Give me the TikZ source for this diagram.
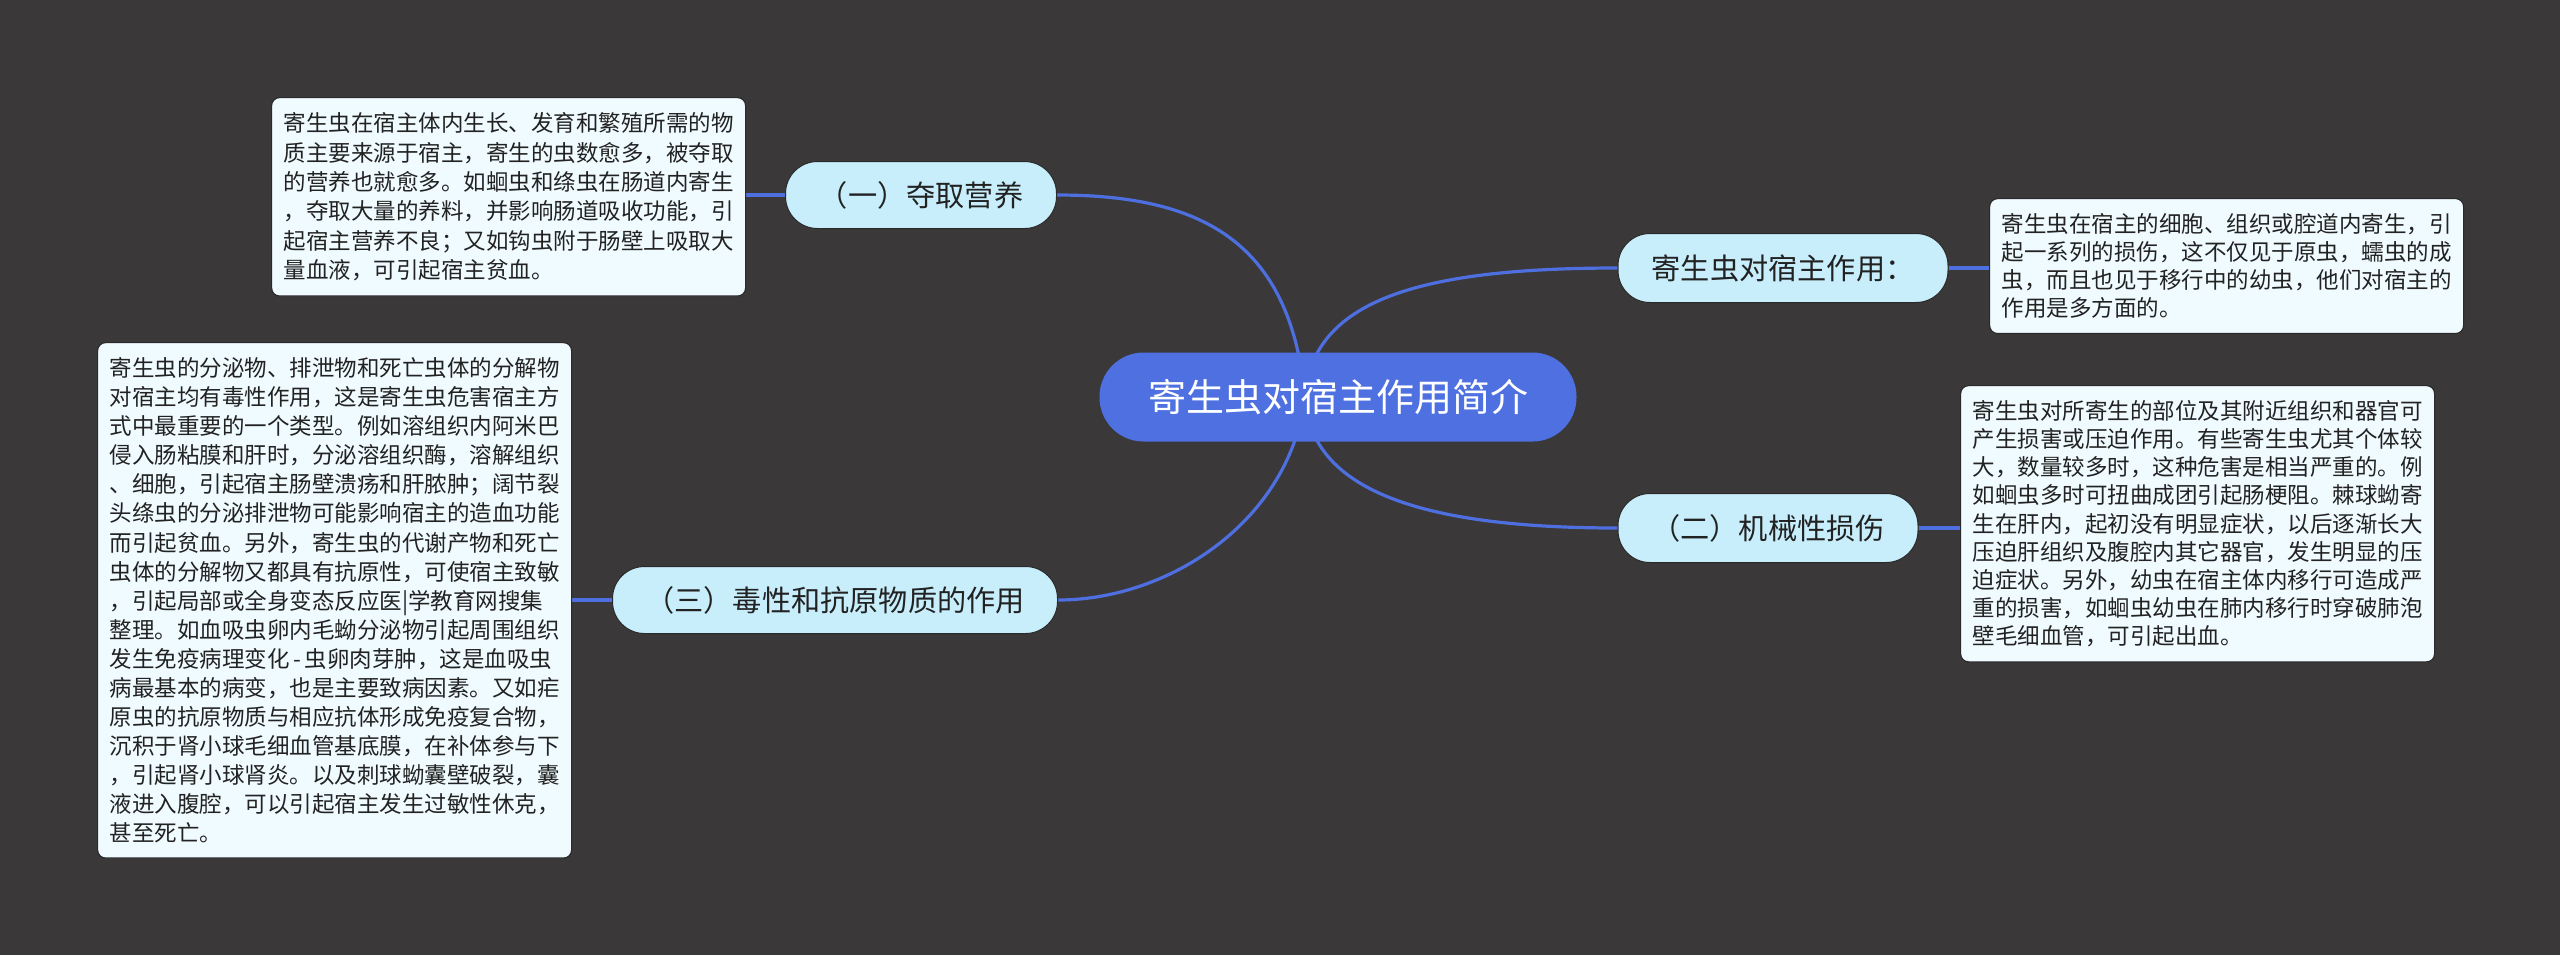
\documentclass[tikz,border=0pt]{standalone}
\usepackage{fontspec}
\setmainfont{Noto Sans CJK SC}
\definecolor{bgc}{HTML}{3A3839}
\definecolor{centerfill}{HTML}{4E70E0}
\definecolor{linec}{HTML}{4E6FDF}
\definecolor{branchfill}{HTML}{C8EEFC}
\definecolor{boxfill}{HTML}{F0FBFF}
\definecolor{edgec}{HTML}{2A2A2A}
\definecolor{textdark}{HTML}{222222}
\pgfdeclarelayer{bgl}
\pgfdeclarelayer{lines}
\pgfsetlayers{bgl,lines,main}
\tikzset{
  centernode/.style={fill=centerfill, rounded corners=22pt, text=white,
    font=\fontsize{19pt}{22pt}\selectfont, minimum width=238.5pt, minimum height=44.5pt, inner sep=0pt},
  branch/.style={fill=branchfill, draw=edgec, line width=0.5pt, rounded corners=16pt, text=textdark,
    font=\fontsize{14.6pt}{17pt}\selectfont, minimum height=33.5pt, inner sep=0pt},
  infobox/.style={fill=boxfill, draw=edgec, line width=0.6pt, rounded corners=4pt, text=textdark,
    text width=225pt, inner xsep=6pt, inner ysep=7.5pt, align=left, anchor=north west},
  conn/.style={draw=linec, line width=1.6pt},
}
\begin{document}
\begin{tikzpicture}[x=0.5pt,y=-0.5pt]
\begin{pgfonlayer}{bgl}
\fill[bgc] (0,0) rectangle (2560,955);
\end{pgfonlayer}
\useasboundingbox (0,0) rectangle (2560,955);

\node[centernode] (c) at (1338,397) {寄生虫对宿主作用简介};
\coordinate (s) at (1305,397);

\node[branch, minimum width=135.5pt] (n1) at (921,195) {（一）夺取营养};
\node[branch, minimum width=222.5pt] (n3) at (835,600) {（三）毒性和抗原物质的作用};
\node[branch, minimum width=165pt, minimum height=34.5pt] (nr) at (1783,268) {寄生虫对宿主作用：};
\node[branch, minimum width=150pt, minimum height=34.5pt] (n2) at (1768,528) {（二）机械性损伤};

\node[infobox, font=\fontsize{11.25pt}{14.7pt}\selectfont] (b1) at (271,97) {寄生虫在宿主体内生长、发育和繁殖所需的物\\
质主要来源于宿主，寄生的虫数愈多，被夺取\\
的营养也就愈多。如蛔虫和绦虫在肠道内寄生\\
，夺取大量的养料，并影响肠道吸收功能，引\\
起宿主营养不良；又如钩虫附于肠壁上吸取大\\
量血液，可引起宿主贫血。};

\node[infobox, font=\fontsize{11.25pt}{14.53pt}\selectfont] (b3) at (97,342) {寄生虫的分泌物、排泄物和死亡虫体的分解物\\
对宿主均有毒性作用，这是寄生虫危害宿主方\\
式中最重要的一个类型。例如溶组织内阿米巴\\
侵入肠粘膜和肝时，分泌溶组织酶，溶解组织\\
、细胞，引起宿主肠壁溃疡和肝脓肿；阔节裂\\
头绦虫的分泌排泄物可能影响宿主的造血功能\\
而引起贫血。另外，寄生虫的代谢产物和死亡\\
虫体的分解物又都具有抗原性，可使宿主致敏\\
，引起局部或全身变态反应医|学教育网搜集\\
整理。如血吸虫卵内毛蚴分泌物引起周围组织\\
\mbox{发生免疫病理变化\,-\,虫卵肉芽肿，这是血吸虫}\\
病最基本的病变，也是主要致病因素。又如疟\\
原虫的抗原物质与相应抗体形成免疫复合物，\\
沉积于肾小球毛细血管基底膜，在补体参与下\\
，引起肾小球肾炎。以及刺球蚴囊壁破裂，囊\\
液进入腹腔，可以引起宿主发生过敏性休克，\\
甚至死亡。};

\node[infobox, font=\fontsize{11.25pt}{14pt}\selectfont] (br) at (1989,198) {寄生虫在宿主的细胞、组织或腔道内寄生，引\\
起一系列的损伤，这不仅见于原虫，蠕虫的成\\
虫，而且也见于移行中的幼虫，他们对宿主的\\
作用是多方面的。};

\node[infobox, font=\fontsize{11.25pt}{14.05pt}\selectfont] (b2) at (1960,385) {寄生虫对所寄生的部位及其附近组织和器官可\\
产生损害或压迫作用。有些寄生虫尤其个体较\\
大，数量较多时，这种危害是相当严重的。例\\
如蛔虫多时可扭曲成团引起肠梗阻。棘球蚴寄\\
生在肝内，起初没有明显症状，以后逐渐长大\\
压迫肝组织及腹腔内其它器官，发生明显的压\\
迫症状。另外，幼虫在宿主体内移行可造成严\\
重的损害，如蛔虫幼虫在肺内移行时穿破肺泡\\
壁毛细血管，可引起出血。};

\begin{pgfonlayer}{lines}
\draw[conn] (s) .. controls (1290,240) and (1200,195) .. (n1.east);
\draw[conn] (s) .. controls (1312,300) and (1420,268) .. (nr.west);
\draw[conn] (s) .. controls (1290,520) and (1170,600) .. (n3.east);
\draw[conn] (s) .. controls (1310,490) and (1420,528) .. (n2.west);
\draw[conn] (n1.west) -- (b1.east |- n1.west);
\draw[conn] (n3.west) -- (b3.east |- n3.west);
\draw[conn] (nr.east) -- (br.west |- nr.east);
\draw[conn] (n2.east) -- (b2.west |- n2.east);
\end{pgfonlayer}
\end{tikzpicture}
\end{document}
